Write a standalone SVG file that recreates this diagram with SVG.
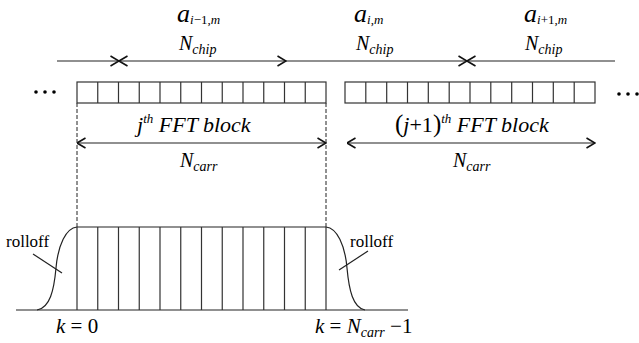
<svg xmlns="http://www.w3.org/2000/svg" width="639" height="343" viewBox="0 0 639 343">
<defs>
<marker id="ah" viewBox="0 0 10 12" refX="9.5" refY="6" markerWidth="10" markerHeight="12" markerUnits="userSpaceOnUse" orient="auto-start-reverse">
<path d="M1,1 L9.5,6 L1,11" fill="none" stroke="#111" stroke-width="1.6"/>
</marker>
</defs>
<rect width="639" height="343" fill="#fff"/>

<g id="connectors" stroke="#222" stroke-width="1.2" fill="none">
<line x1="57" y1="61" x2="119" y2="61" marker-end="url(#ah)"/>
<line x1="119" y1="61" x2="286" y2="61" marker-start="url(#ah)" marker-end="url(#ah)"/>
<line x1="286" y1="61" x2="467" y2="61" marker-end="url(#ah)"/>
<line x1="467" y1="61" x2="615" y2="61" marker-start="url(#ah)"/>
<line x1="77" y1="143" x2="326" y2="143" marker-start="url(#ah)" marker-end="url(#ah)"/>
<line x1="347" y1="143" x2="595" y2="143" marker-start="url(#ah)" marker-end="url(#ah)"/>
<line x1="77" y1="103" x2="77" y2="227" stroke-width="1" stroke-dasharray="4,2"/>
<line x1="326" y1="103" x2="326" y2="227" stroke-width="1" stroke-dasharray="4,2"/>
</g>

<g id="labels-top" fill="#000">
<text x="177" y="22" style="font-family:'Liberation Serif',serif;font-style:italic;font-size:26px">a<tspan dy="2" style="font-size:13px">i<tspan style="font-style:normal">−1,</tspan>m</tspan></text>
<text x="179" y="50" style="font-family:'Liberation Serif',serif;font-style:italic;font-size:20px">N<tspan dy="4" style="font-size:14px">chip</tspan></text>
<text x="354" y="22" style="font-family:'Liberation Serif',serif;font-style:italic;font-size:26px">a<tspan dy="2" style="font-size:13px">i<tspan style="font-style:normal">,</tspan>m</tspan></text>
<text x="356" y="50" style="font-family:'Liberation Serif',serif;font-style:italic;font-size:20px">N<tspan dy="4" style="font-size:14px">chip</tspan></text>
<text x="524" y="22" style="font-family:'Liberation Serif',serif;font-style:italic;font-size:26px">a<tspan dy="2" style="font-size:13px">i<tspan style="font-style:normal">+1,</tspan>m</tspan></text>
<text x="525" y="50" style="font-family:'Liberation Serif',serif;font-style:italic;font-size:20px">N<tspan dy="4" style="font-size:14px">chip</tspan></text>
</g>

<g id="dots-left" fill="#000">
<circle cx="36" cy="92" r="1.8"/><circle cx="45" cy="92" r="1.8"/><circle cx="54" cy="92" r="1.8"/>
</g>
<g id="dots-right" fill="#000">
<circle cx="619" cy="94" r="1.8"/><circle cx="628" cy="94" r="1.8"/><circle cx="637" cy="94" r="1.8"/>
</g>

<g id="block-j" stroke="#333" stroke-width="1.2" fill="none">
<rect x="77" y="82" width="249" height="21"/>
<path d="M97.75,82V103M118.5,82V103M139.25,82V103M160,82V103M180.75,82V103M201.5,82V103M222.25,82V103M243,82V103M263.75,82V103M284.5,82V103M305.25,82V103"/>
</g>
<g id="block-j1" stroke="#333" stroke-width="1.2" fill="none">
<rect x="345" y="82" width="250" height="21"/>
<path d="M365.8,82V103M386.7,82V103M407.5,82V103M428.3,82V103M449.2,82V103M470,82V103M490.8,82V103M511.7,82V103M532.5,82V103M553.3,82V103M574.2,82V103"/>
</g>

<g id="label-j" fill="#000">
<text x="137" y="132" style="font-family:'Liberation Serif',serif;font-style:italic;font-size:22px">j<tspan dy="-9" style="font-size:13px">th</tspan><tspan dy="9"> FFT block</tspan></text>
<text x="180" y="167" style="font-family:'Liberation Serif',serif;font-style:italic;font-size:20px">N<tspan dy="4" style="font-size:14px">carr</tspan></text>
</g>
<g id="label-j1" fill="#000">
<text x="395" y="132" style="font-family:'Liberation Serif',serif;font-style:italic;font-size:22px"><tspan style="font-style:normal;font-size:25px">(</tspan>j<tspan style="font-style:normal">+1</tspan><tspan style="font-style:normal;font-size:25px">)</tspan><tspan dy="-9" style="font-size:13px">th</tspan><tspan dy="9"> FFT block</tspan></text>
<text x="453" y="167" style="font-family:'Liberation Serif',serif;font-style:italic;font-size:20px">N<tspan dy="4" style="font-size:14px">carr</tspan></text>
</g>

<g id="spectrum" stroke="#222" stroke-width="1.2" fill="none">
<line x1="16" y1="310" x2="408" y2="310"/>
<line x1="77" y1="227" x2="326" y2="227"/>
<path stroke="#333" d="M77,227V310M97.75,227V310M118.5,227V310M139.25,227V310M160,227V310M180.75,227V310M201.5,227V310M222.25,227V310M243,227V310M263.75,227V310M284.5,227V310M305.25,227V310M326,227V310"/>
<path d="M37,310 C50,308 54,290 56,268 C58,245 66,228 77,227"/>
<path d="M326,227 C337,228 345,245 347,268 C349,290 353,308 365,310"/>
</g>

<g id="rolloff-left">
<text x="6" y="247" fill="#000" style="font-family:'Liberation Serif',serif;font-size:17px">rolloff</text>
<line x1="33" y1="254" x2="62" y2="273" stroke="#222" stroke-width="1.2"/>
</g>
<g id="rolloff-right">
<text x="350" y="247" fill="#000" style="font-family:'Liberation Serif',serif;font-size:17px">rolloff</text>
<line x1="368" y1="251" x2="339" y2="270" stroke="#222" stroke-width="1.2"/>
</g>

<g id="k-labels" fill="#000">
<text x="56" y="333" style="font-family:'Liberation Serif',serif;font-style:italic;font-size:21px">k<tspan style="font-style:normal"> = 0</tspan></text>
<text x="315" y="333" style="font-family:'Liberation Serif',serif;font-style:italic;font-size:21px">k<tspan style="font-style:normal"> = </tspan>N<tspan dy="4" style="font-size:14px">carr</tspan><tspan dy="-4" style="font-style:normal"> −1</tspan></text>
</g>
</svg>
